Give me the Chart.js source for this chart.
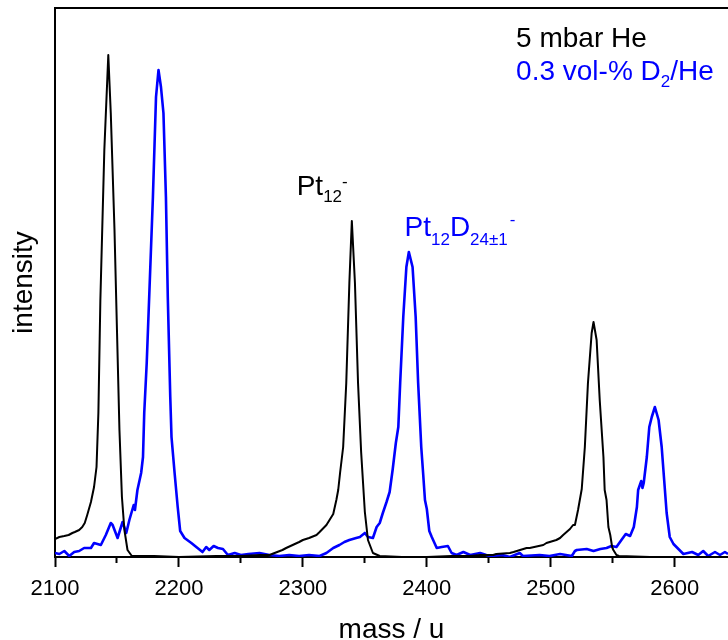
<!DOCTYPE html>
<html>
<head>
<meta charset="utf-8">
<script src="https://cdn.jsdelivr.net/npm/chart.js@4.4.1/dist/chart.umd.min.js"></script>
<style>
  html, body { margin: 0; padding: 0; background: #fff; overflow: hidden; }
  canvas { display: block; }
</style>
</head>
<body>
<canvas id="spectrum" width="728" height="640"></canvas>
<script>
// mass spectrum, 5 mbar He (black)
const massHe = [2100, 2103.5, 2107.5, 2111, 2114, 2116, 2119.5, 2122, 2124, 2126, 2129, 2131.5, 2133.5, 2135, 2136.6, 2139.8,
  2143, 2145, 2148, 2150, 2152, 2154, 2156, 2158.5, 2162, 2180, 2200, 2230, 2250, 2265, 2273, 2283.5, 2286.5, 2297, 2300,
  2305, 2311, 2313.5, 2319, 2323, 2324.5, 2327, 2328.5, 2330, 2332.5, 2335, 2337.5, 2339.5, 2342, 2344.5, 2347, 2350,
  2352.5, 2356.5, 2362, 2380, 2400, 2420, 2435, 2443, 2453.5, 2456, 2467, 2470, 2480.5, 2483, 2494, 2496.5, 2504.5,
  2507.5, 2510, 2515.5, 2518, 2519.5, 2522, 2525, 2527.5, 2530, 2533, 2534.5, 2537, 2539.5, 2542.5, 2543.5, 2545,
  2546.5, 2548, 2549.5, 2550.5, 2553, 2555, 2580, 2610, 2643];
const intensityHe = [18, 20, 21, 22, 24, 25, 27, 30, 34, 42, 55, 70, 90, 144, 257, 407,
  502, 444, 327, 227, 127, 60, 27, 7, 1, 1, 0, 1, 1, 2, 2, 7, 9, 15, 17,
  19, 22, 25, 32, 40, 43, 57, 67, 84, 110, 174, 274, 336, 274, 174, 105, 45,
  17, 4, 1, 0, 0, 1, 1, 2, 2, 3, 4, 5, 9, 9, 12, 14, 17,
  19, 22, 28, 32, 32, 47, 68, 110, 174, 224, 235, 217, 157, 100, 67, 57,
  30, 22, 10, 7, 2, 1, 0, 0, 0];

// mass spectrum, 0.3 vol-% D2/He (blue)
const massD2 = [2100, 2103.5, 2107.5, 2111.5, 2115.5, 2119.5, 2123.5, 2129, 2131.5, 2137, 2141, 2145, 2146.5, 2150.5,
  2154.5, 2157.5, 2160, 2163.5, 2164.5, 2166.5, 2169.5, 2171, 2172, 2174, 2176, 2179, 2181.5, 2183.5, 2185.5, 2187.5,
  2189.5, 2191, 2193, 2194, 2196.5, 2199, 2201, 2204.5, 2210, 2215, 2219, 2222, 2224.5, 2228, 2231.5, 2235.5, 2239.5,
  2245, 2250, 2256, 2265, 2273, 2281, 2289, 2297, 2305, 2313.5, 2319, 2324.5, 2329.5, 2333.5, 2337.5, 2343, 2346,
  2350, 2352.5, 2356.5, 2359.5, 2362, 2364.5, 2367.5, 2370, 2372.5, 2375, 2377, 2378.5, 2381, 2383.5, 2385.5, 2388.5,
  2391, 2393, 2395.5, 2397, 2398.5, 2400, 2402, 2404, 2408, 2412, 2417, 2420, 2424, 2429.5, 2435, 2443, 2448, 2451,
  2461, 2467, 2475, 2477.5, 2491, 2499, 2507.5, 2517, 2519.5, 2521, 2529, 2534.5, 2540, 2545, 2549, 2553, 2557,
  2560.5, 2564, 2567, 2569.5, 2570.5, 2573, 2574, 2575, 2577.5, 2579.5, 2581.5, 2584, 2587, 2589.5, 2591.5, 2593.5,
  2596, 2599, 2603, 2607, 2614, 2619, 2623, 2627, 2632.5, 2636.5, 2640.5, 2643];
const intensityD2 = [4, 3, 6, 1, 5, 6, 9, 9, 14, 12, 22, 34, 32, 19,
  35, 24, 37, 52, 47, 67, 84, 100, 144, 194, 260, 360, 460, 487, 470, 444,
  360, 260, 160, 120, 84, 50, 26, 19, 14, 9, 5, 10, 7, 11, 9, 8, 2,
  4, 2, 3, 4, 2, 1, 2, 1, 2, 1, 4, 9, 12, 15, 17, 19, 20,
  24, 20, 19, 30, 34, 44, 55, 65, 88, 114, 130, 174, 240, 290, 305, 290,
  240, 174, 110, 84, 57, 48, 26, 20, 9, 10, 11, 4, 2, 5, 2, 4, 2, 1,
  2, 0, 4, 1, 2, 1, 3, 1, 6, 7, 8, 6, 8, 9, 11, 10, 17,
  23, 21, 30, 50, 67, 76, 69, 74, 100, 130, 140, 150, 137, 110, 77, 44,
  20, 13, 8, 3, 5, 2, 6, 1, 5, 2, 5, 3];

// axis ticks
const majorTicks = [2100, 2200, 2300, 2400, 2500, 2600];
const minorTicks = [2150, 2250, 2350, 2450, 2550];
const massMin = 2100;
const massMax = 2643;

const FONT = '"Liberation Sans", Arial, sans-serif';

function pairs(xs, ys) {
  return xs.map((x, i) => ({ x: x, y: ys[i] }));
}

// text with sub/superscripts, drawn at a data anchor
function drawParts(ctx, x, y, parts, color) {
  ctx.fillStyle = color;
  ctx.textBaseline = 'alphabetic';
  ctx.textAlign = 'left';
  parts.forEach(p => {
    ctx.font = p.size + 'px ' + FONT;
    ctx.fillText(p.t, x, y + (p.dy || 0));
    x += ctx.measureText(p.t).width + (p.gap || 0);
  });
}

const labelsPlugin = {
  id: 'labels',
  afterDraw(chart) {
    const { ctx, chartArea, scales } = chart;
    ctx.save();
    // top frame line
    ctx.strokeStyle = '#000';
    ctx.lineWidth = 2;
    ctx.beginPath();
    ctx.moveTo(chartArea.left - 1, chartArea.top);
    ctx.lineTo(chartArea.right, chartArea.top);
    ctx.stroke();

    const px = v => scales.x.getPixelForValue(v);
    const py = v => scales.y.getPixelForValue(v);

    drawParts(ctx, px(2295), py(362), [
      { t: 'Pt', size: 28 },
      { t: '12', size: 17, dy: 7 },
      { t: '-', size: 17, dy: -8, gap: 0 }
    ], '#000');

    drawParts(ctx, px(2382), py(321), [
      { t: 'Pt', size: 28 },
      { t: '12', size: 17, dy: 9 },
      { t: 'D', size: 28 },
      { t: '24±1', size: 17, dy: 9, gap: 2 },
      { t: '-', size: 17, dy: -11 }
    ], '#0000ff');

    drawParts(ctx, px(2472), py(510), [{ t: '5 mbar He', size: 28 }], '#000');
    drawParts(ctx, px(2472), py(477), [
      { t: '0.3 vol-% D', size: 28 },
      { t: '2', size: 17, dy: 7 },
      { t: '/He', size: 28 }
    ], '#0000ff');
    ctx.restore();
  }
};

const ctx = document.getElementById('spectrum').getContext('2d');
const chart = new Chart(ctx, {
  type: 'line',
  data: {
    datasets: [
      {
        label: '5 mbar He',
        data: pairs(massHe, intensityHe),
        borderColor: '#000000',
        borderWidth: 2,
        borderJoinStyle: 'round',
        pointRadius: 0,
        tension: 0,
        fill: false
      },
      {
        label: '0.3 vol-% D2/He',
        data: pairs(massD2, intensityD2),
        borderColor: '#0000ff',
        borderWidth: 2.6,
        borderJoinStyle: 'round',
        pointRadius: 0,
        tension: 0,
        fill: false
      }
    ]
  },
  options: {
    responsive: false,
    animation: false,
    layout: { padding: { top: 8, left: 0, right: 0, bottom: 0 } },
    plugins: {
      legend: { display: false },
      tooltip: { enabled: false }
    },
    scales: {
      x: {
        type: 'linear',
        position: 'bottom',
        weight: 1,
        min: massMin,
        max: massMax,
        ticks: {
          color: '#000',
          font: { family: FONT, size: 22 },
          padding: 9,
          maxRotation: 0,
          autoSkip: false,
          callback: v => String(v)
        },
        afterBuildTicks: s => { s.ticks = majorTicks.map(v => ({ value: v })); },
        grid: { drawOnChartArea: false, drawTicks: true, tickLength: 10, tickWidth: 2, tickColor: '#000' },
        border: { display: true, color: '#000', width: 2 },
        title: {
          display: true,
          text: 'mass / u',
          color: '#000',
          font: { family: FONT, size: 28 },
          padding: { top: 0, bottom: -7 }
        },
        afterFit: s => { s.height = 83; }
      },
      xMinor: {
        type: 'linear',
        position: 'bottom',
        weight: 0,
        min: massMin,
        max: massMax,
        ticks: { display: false },
        afterBuildTicks: s => { s.ticks = minorTicks.map(v => ({ value: v })); },
        grid: { drawOnChartArea: false, drawTicks: true, tickLength: 6, tickWidth: 2, tickColor: '#000' },
        border: { display: false },
        afterFit: s => { s.height = 0; }
      },
      y: {
        min: 0,
        max: 549,
        ticks: { display: false },
        grid: { display: false, drawTicks: false },
        border: { display: true, color: '#000', width: 2 },
        title: {
          display: true,
          text: 'intensity',
          color: '#000',
          font: { family: FONT, size: 28 },
          padding: { top: 7, bottom: 0 }
        },
        afterFit: s => { s.width = 55; }
      }
    }
  },
  plugins: [labelsPlugin]
});
</script>
</body>
</html>
